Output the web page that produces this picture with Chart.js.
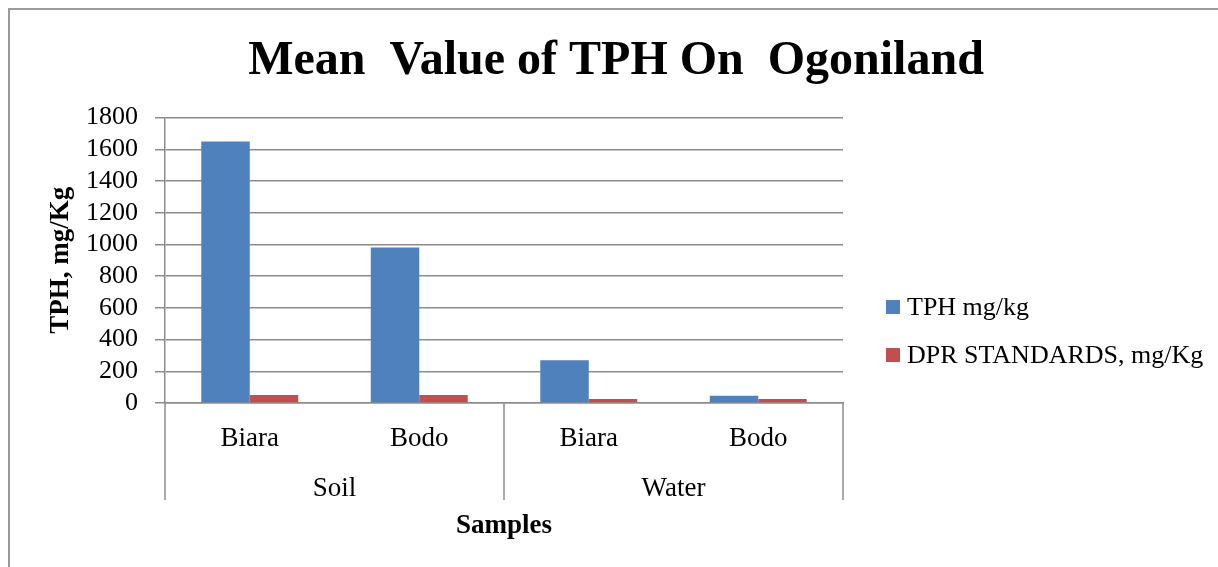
<!DOCTYPE html>
<html>
<head>
<meta charset="utf-8">
<script src="https://cdn.jsdelivr.net/npm/chart.js"></script>
<style>
    body { margin: 0; background: #fff; }
    #wrap { position: relative; width: 1218px; height: 567px; overflow: hidden; }
    #frame { position: absolute; left: 8px; top: 8px; width: 1300px; height: 700px;
             border-left: 2px solid #9a9a9a; border-top: 2px solid #9a9a9a; }
    canvas { position: absolute; left: 0; top: 0; }
</style>
</head>
<body>
<div id="wrap">
    <div id="frame"></div>
    <canvas id="barChart" width="1218" height="567"></canvas>
</div>
<script>
// sub categories and their groups
const samples = ["Biara", "Bodo", "Biara", "Bodo"];
const groups = ["Soil", "Water"];

// mg/Kg
const tphValues = [1650, 980, 270, 45];
const dprValues = [50, 50, 25, 25];

const yMin = 0;
const yMax = 1800;
const yStep = 200;

const gridColor = "#8c8c8c";
const serif = "'Liberation Serif', 'DejaVu Serif', serif";

// lines between the groups under the axis
const groupLines = {
    id: 'groupLines',
    afterDraw(chart) {
        let ctx = chart.ctx;
        let area = chart.chartArea;
        let x = chart.scales.x;
        let x2 = chart.scales.x2;
        let mid = (x.getPixelForValue(1) + x.getPixelForValue(2)) / 2;
        let bottom = x2.top + 37;
        ctx.save();
        ctx.strokeStyle = gridColor;
        ctx.lineWidth = 1.5;
        [area.left, mid, area.right].forEach(function (px) {
            ctx.beginPath();
            ctx.moveTo(px, area.bottom);
            ctx.lineTo(px, bottom);
            ctx.stroke();
        });
        ctx.restore();
    }
};

// legend to the right, drawn from the datasets
const sideLegend = {
    id: 'sideLegend',
    afterDraw(chart) {
        let ctx = chart.ctx;
        let area = chart.chartArea;
        ctx.save();
        ctx.font = "26px " + serif;
        ctx.textBaseline = 'middle';
        ctx.textAlign = 'left';
        chart.data.datasets.forEach(function (ds, i) {
            let y = area.bottom - 96 + i * 48;
            ctx.fillStyle = ds.backgroundColor;
            ctx.fillRect(area.right + 43, y - 7, 14, 14);
            ctx.fillStyle = "#000";
            ctx.fillText(ds.label, area.right + 64, y + 1);
        });
        ctx.restore();
    }
};

function barChart() {

    let barChart = document.getElementById('barChart')

    new Chart(barChart, {
        type: 'bar',
        data: {
            labels: samples,
            datasets: [
                {
                    label: "TPH mg/kg",
                    data: tphValues,
                    backgroundColor: "#4F81BD"
                },
                {
                    label: "DPR STANDARDS, mg/Kg",
                    data: dprValues,
                    backgroundColor: "#C0504D"
                }
            ]
        },
        options: {
            responsive: false,
            animation: false,
            categoryPercentage: 0.572,
            barPercentage: 1.0,
            layout: {
                padding: { left: 14, right: 0, top: 0, bottom: 25 }
            },
            plugins: {
                title: {
                    display: true,
                    text: "Mean  Value of TPH On  Ogoniland",
                    color: "#000",
                    font: { family: serif, size: 48, weight: 'bold' },
                    padding: { top: 33, bottom: 27 }
                },
                legend: { display: false },
                tooltip: { enabled: false }
            },
            scales: {
                y: {
                    min: yMin,
                    max: yMax,
                    ticks: {
                        stepSize: yStep,
                        autoSkip: false,
                        color: "#000",
                        font: { family: serif, size: 26 },
                        padding: 17,
                        callback: function (v) { return String(v); }
                    },
                    grid: {
                        color: gridColor,
                        lineWidth: 1.5,
                        tickLength: 10
                    },
                    border: { color: gridColor, width: 1.5 },
                    title: {
                        display: true,
                        text: "TPH, mg/Kg",
                        color: "#000",
                        font: { family: serif, size: 27, weight: 'bold' },
                        padding: { top: 31, bottom: 0 }
                    },
                    afterFit(scale) {
                        scale.width = 151;
                    }
                },
                // keeps room for the legend
                side: {
                    type: 'linear',
                    position: 'right',
                    grid: { display: false, drawTicks: false },
                    border: { display: false },
                    ticks: { display: false },
                    afterFit(scale) {
                        scale.width = 375;
                    }
                },
                x: {
                    grid: { display: false, drawTicks: false },
                    border: { color: gridColor, width: 1.5 },
                    ticks: {
                        color: "#000",
                        font: { family: serif, size: 27 },
                        padding: 20,
                        maxRotation: 0
                    },
                    afterFit(scale) {
                        scale.height = 60;
                    }
                },
                x2: {
                    type: 'category',
                    position: 'bottom',
                    labels: groups,
                    offset: true,
                    grid: { display: false, drawTicks: false },
                    border: { display: false },
                    ticks: {
                        color: "#000",
                        font: { family: serif, size: 27 },
                        padding: 10,
                        maxRotation: 0
                    },
                    title: {
                        display: true,
                        text: "Samples",
                        color: "#000",
                        font: { family: serif, size: 27, weight: 'bold' },
                        padding: { top: 0, bottom: 0 }
                    },
                    afterFit(scale) {
                        scale.height = 79;
                    }
                }
            }
        },
        plugins: [groupLines, sideLegend]
    });
}

barChart();
</script>
</body>
</html>
